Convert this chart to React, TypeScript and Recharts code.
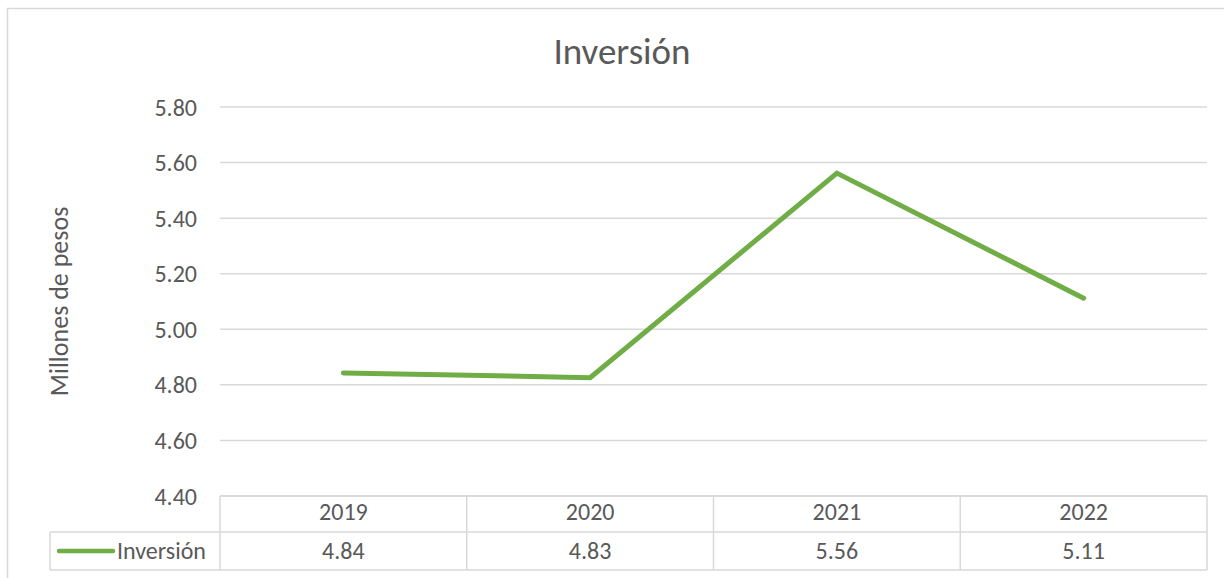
import React from "react";
import {
  LineChart,
  Line,
  XAxis,
  YAxis,
  CartesianGrid,
  usePlotArea,
} from "recharts";

const years = ["2019", "2020", "2021", "2022"];
const inversion = [4.843, 4.826, 5.562, 5.112];
const yTicks = [4.4, 4.6, 4.8, 5.0, 5.2, 5.4, 5.6, 5.8];
const seriesName = "Inversión";
const chartTitle = "Inversión";
const yAxisTitle = "Millones de pesos";

const data = years.map((year, i) => ({ year, value: inversion[i] }));

const FONT = "Carlito, Calibri, Lato, sans-serif";
const TEXT = "#595959";
const GRID = "#d9d9d9";
const GREEN = "#70ad47";

// Year + value cells under each category (data table, Excel style)
function TableTick(props: any) {
  const { x, y, payload } = props;
  const v = inversion[payload.index];
  return (
    <g>
      <text x={x} y={y + 24} textAnchor="middle" fill={TEXT} fontSize={24} fontFamily={FONT}>
        {payload.value}
      </text>
      <text x={x} y={y + 63} textAnchor="middle" fill={TEXT} fontSize={24} fontFamily={FONT}>
        {v.toFixed(2)}
      </text>
    </g>
  );
}

// Table borders, legend key, title and frame
function TableFrame() {
  const plot = usePlotArea();
  if (!plot) return null;
  const left = plot.x;
  const right = plot.x + plot.width;
  const bottom = plot.y + plot.height;
  const row1 = bottom + 36;
  const row2 = bottom + 74;
  const keyLeft = left - 170;
  const band = plot.width / years.length;
  return (
    <g>
      <rect x={7.5} y={8.5} width={1240} height={600} fill="none" stroke={GRID} strokeWidth={1.5} />
      <text x={622} y={64} textAnchor="middle" fill={TEXT} fontSize={37} fontFamily={FONT}>
        {chartTitle}
      </text>
      <text
        x={0}
        y={0}
        transform={`translate(68, ${plot.y + plot.height / 2}) rotate(-90)`}
        textAnchor="middle"
        fill={TEXT}
        fontSize={26}
        fontFamily={FONT}
      >
        {yAxisTitle}
      </text>
      <g stroke={GRID} strokeWidth={1.5}>
        <line x1={left} y1={bottom} x2={right} y2={bottom} />
        <line x1={keyLeft} y1={row1} x2={right} y2={row1} />
        <line x1={keyLeft} y1={row2} x2={right} y2={row2} />
        <line x1={keyLeft} y1={row1} x2={keyLeft} y2={row2} />
        {years.map((_, i) => (
          <line key={i} x1={left + band * i} y1={bottom} x2={left + band * i} y2={row2} />
        ))}
        <line x1={right} y1={bottom} x2={right} y2={row2} />
      </g>
      <line
        x1={keyLeft + 9}
        y1={(row1 + row2) / 2}
        x2={keyLeft + 63}
        y2={(row1 + row2) / 2}
        stroke={GREEN}
        strokeWidth={4.5}
        strokeLinecap="round"
      />
      <text x={keyLeft + 67} y={row1 + 27} fill={TEXT} fontSize={24} fontFamily={FONT}>
        {seriesName}
      </text>
    </g>
  );
}

export default function App() {
  return (
    <div style={{ position: "absolute", left: 0, top: 0, background: "#fff" }}>
      <LineChart
        width={1224}
        height={578}
        data={data}
        margin={{ top: 107, right: 17, bottom: 0, left: 160 }}
      >
        <CartesianGrid vertical={false} stroke={GRID} strokeWidth={1.5} />
        <XAxis
          dataKey="year"
          scale="band"
          height={82}
          axisLine={false}
          tickLine={false}
          tickSize={0}
          tickMargin={0}
          interval={0}
          tick={<TableTick />}
        />
        <YAxis
          width={60}
          domain={[4.4, 5.8]}
          ticks={yTicks}
          axisLine={false}
          tickLine={false}
          tickSize={0}
          tickMargin={23}
          tickFormatter={(v: number) => v.toFixed(2)}
          tick={{ fontSize: 24, fill: TEXT, fontFamily: FONT }}
        />
        <TableFrame />
        <Line
          type="linear"
          dataKey="value"
          stroke={GREEN}
          strokeWidth={5}
          strokeLinecap="round"
          dot={false}
          isAnimationActive={false}
        />
      </LineChart>
    </div>
  );
}
